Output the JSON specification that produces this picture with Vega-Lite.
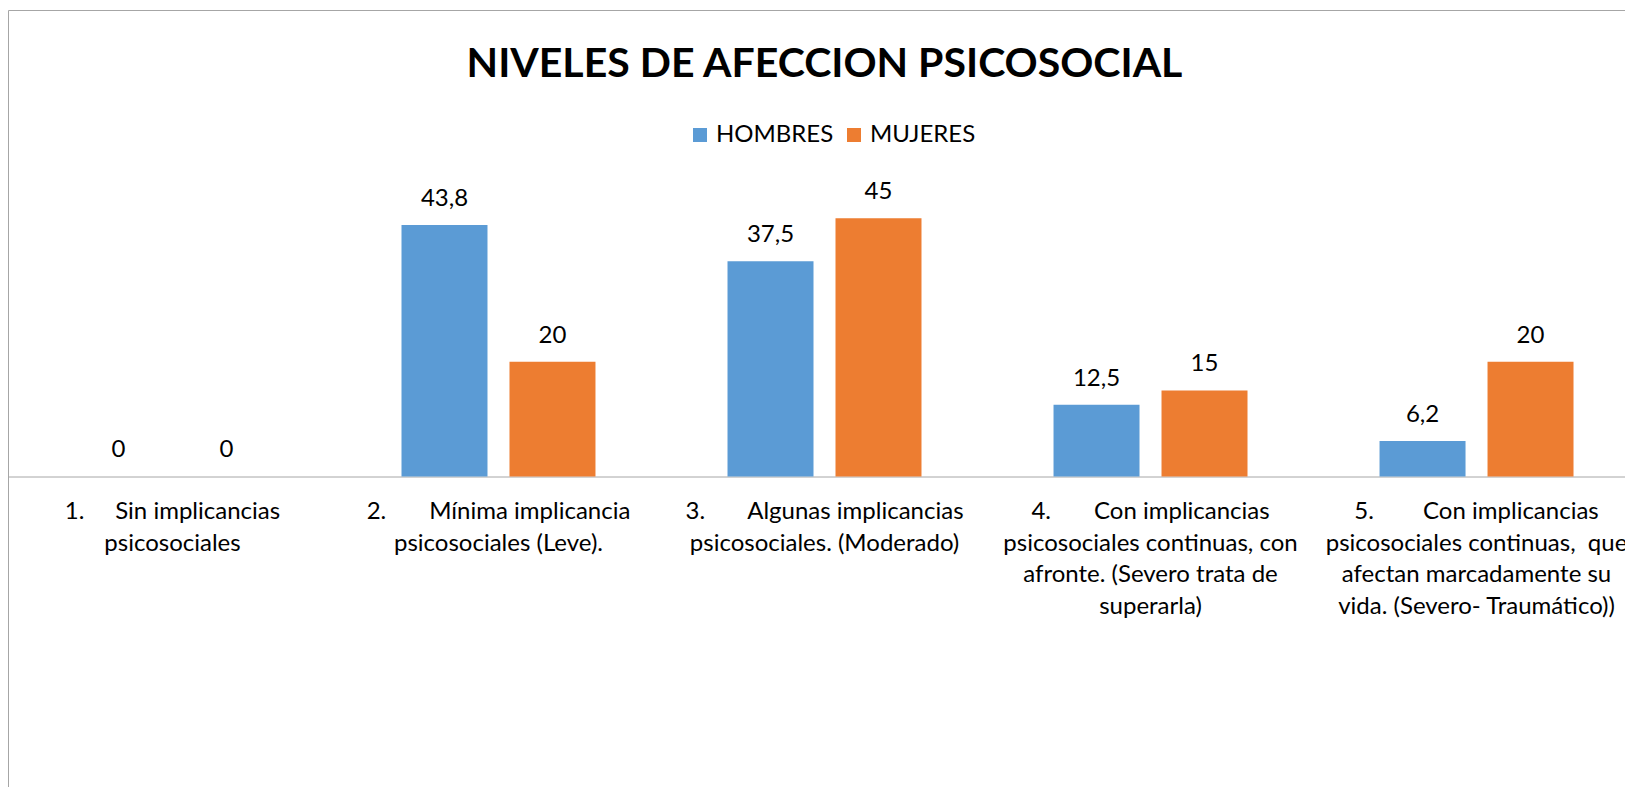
{
  "$schema": "https://vega.github.io/schema/vega-lite/v6.json",
  "autosize": "none",
  "padding": {"left": 8, "top": 10, "right": 0, "bottom": 0},
  "width": 1633,
  "height": 790,
  "background": "white",
  "title": {
    "text": "NIVELES DE AFECCION PSICOSOCIAL",
    "font": "Lato",
    "fontSize": 41,
    "fontWeight": "bold",
    "color": "#000000",
    "anchor": "middle",
    "frame": "group",
    "orient": "top",
    "baseline": "top",
    "offset": 0,
    "dy": 76
  },
  "config": {
    "locale": {"number": {"decimal": ",", "thousands": ".", "grouping": [3], "currency": ["", " €"]}},
    "view": {"stroke": "#a6a6a6", "strokeWidth": 1},
    "font": "Lato"
  },
  "data": {
    "values": [
      {"nivel": "1.\u00a0\u00a0\u00a0\u00a0 Sin implicancias\npsicosociales", "sexo": "HOMBRES", "valor": 0},
      {"nivel": "1.\u00a0\u00a0\u00a0\u00a0 Sin implicancias\npsicosociales", "sexo": "MUJERES", "valor": 0},
      {"nivel": "2.\u00a0\u00a0\u00a0\u00a0\u00a0\u00a0 Mínima implicancia\npsicosociales (Leve).", "sexo": "HOMBRES", "valor": 43.8},
      {"nivel": "2.\u00a0\u00a0\u00a0\u00a0\u00a0\u00a0 Mínima implicancia\npsicosociales (Leve).", "sexo": "MUJERES", "valor": 20},
      {"nivel": "3.\u00a0\u00a0\u00a0\u00a0\u00a0\u00a0 Algunas implicancias\npsicosociales. (Moderado)", "sexo": "HOMBRES", "valor": 37.5},
      {"nivel": "3.\u00a0\u00a0\u00a0\u00a0\u00a0\u00a0 Algunas implicancias\npsicosociales. (Moderado)", "sexo": "MUJERES", "valor": 45},
      {"nivel": "4.\u00a0\u00a0\u00a0\u00a0\u00a0\u00a0 Con implicancias\npsicosociales continuas, con\nafronte. (Severo trata de\nsuperarla)", "sexo": "HOMBRES", "valor": 12.5},
      {"nivel": "4.\u00a0\u00a0\u00a0\u00a0\u00a0\u00a0 Con implicancias\npsicosociales continuas, con\nafronte. (Severo trata de\nsuperarla)", "sexo": "MUJERES", "valor": 15},
      {"nivel": "5.\u00a0\u00a0\u00a0\u00a0\u00a0\u00a0\u00a0 Con implicancias\npsicosociales continuas,\u00a0 que\nafectan marcadamente su\nvida. (Severo- Traumático))", "sexo": "HOMBRES", "valor": 6.2},
      {"nivel": "5.\u00a0\u00a0\u00a0\u00a0\u00a0\u00a0\u00a0 Con implicancias\npsicosociales continuas,\u00a0 que\nafectan marcadamente su\nvida. (Severo- Traumático))", "sexo": "MUJERES", "valor": 20}
    ]
  },
  "encoding": {
    "x": {
      "field": "nivel",
      "type": "nominal",
      "sort": null,
      "scale": {"paddingInner": 0.405, "paddingOuter": 0.207},
      "axis": {
        "title": null,
        "orient": "bottom",
        "offset": -323.5,
        "domainColor": "#a6a6a6",
        "domainWidth": 1,
        "ticks": false,
        "labelAngle": 0,
        "labelAlign": "center",
        "labelBaseline": "top",
        "labelPadding": 23,
        "labelFont": "Lato",
        "labelFontSize": 24,
        "labelColor": "#000000",
        "labelLineHeight": 31.5,
        "labelLimit": 0,
        "labelOverlap": false,
        "labelExpr": "split(datum.label, '\\n')"
      }
    },
    "xOffset": {
      "field": "sexo",
      "type": "nominal",
      "scale": {"paddingInner": 0.2037, "paddingOuter": 0}
    },
    "y": {
      "field": "valor",
      "type": "quantitative",
      "scale": {"domain": [-56.36, 81.27], "nice": false, "zero": false},
      "axis": null
    }
  },
  "layer": [
    {
      "mark": {"type": "bar"},
      "encoding": {
        "color": {
          "field": "sexo",
          "type": "nominal",
          "scale": {"domain": ["HOMBRES", "MUJERES"], "range": ["#5B9BD5", "#ED7D31"]},
          "legend": {
            "title": null,
            "orient": "none",
            "legendX": 680,
            "legendY": 113,
            "direction": "horizontal",
            "symbolType": "square",
            "symbolSize": 196,
            "symbolStrokeWidth": 0,
            "labelFont": "Lato",
            "labelFontSize": 24,
            "labelColor": "#000000",
            "labelOffset": 4,
            "columnPadding": 8
          }
        }
      }
    },
    {
      "mark": {"type": "text", "baseline": "bottom", "dy": -14, "font": "Lato", "fontSize": 24, "color": "#000000"},
      "encoding": {
        "text": {"field": "valor", "type": "quantitative", "format": "~g"}
      }
    }
  ]
}
